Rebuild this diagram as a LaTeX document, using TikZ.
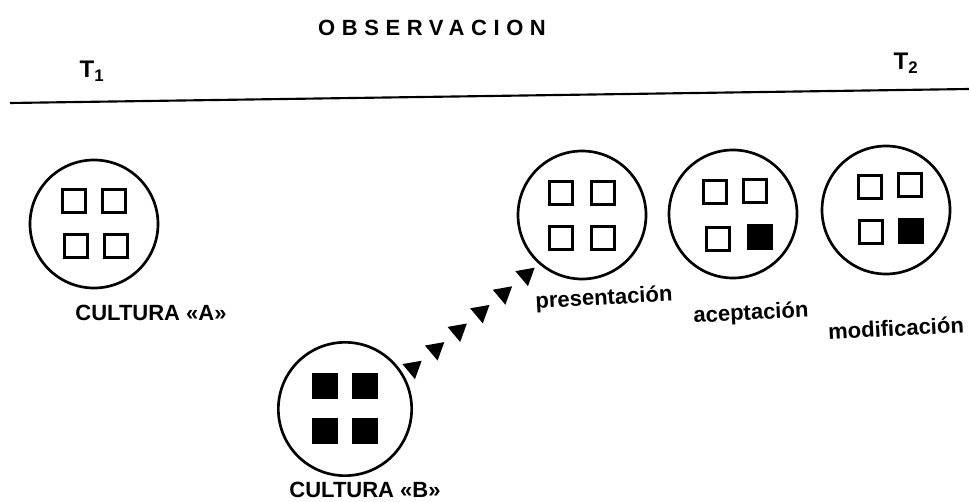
\documentclass[tikz,border=0pt]{standalone}
\usepackage{fontspec}
\setmainfont{Liberation Sans}
\usetikzlibrary{shapes.geometric}

\tikzset{every picture/.style={line width=0.75pt}}
\tikzset{
  cultura/.style={draw, circle, line width=2pt, minimum size=96pt, inner sep=0pt},
  rasgo/.style={draw, rectangle, line width=1.8pt, minimum size=17.5pt, inner sep=0pt},
  rasgolleno/.style={rasgo, fill=black},
  difusion/.style={regular polygon, regular polygon sides=3, shape border rotate=190, fill=black, minimum size=17pt, inner sep=0pt},
  etiqueta/.style={font=\fontsize{16.5}{18}\selectfont\bfseries, inner sep=0.75pt},
  titulo/.style={font=\fontsize{16.5}{18}\selectfont\bfseries, inner sep=0.75pt},
}

\begin{document}
\begin{tikzpicture}[x=0.75pt,y=0.75pt,yscale=-1,xscale=1]
  \useasboundingbox (0,0) rectangle (969,502);

  %Titulo y linea de tiempo
  \node[titulo] (obs) at (432,28) {\addfontfeature{LetterSpace=30}OBSERVACION};
  \node[etiqueta, font=\fontsize{18}{20}\selectfont\bfseries] (t1) at (92,71) {T\textsubscript{1}};
  \node[etiqueta, font=\fontsize{18}{20}\selectfont\bfseries] (t2) at (906,63) {T\textsubscript{2}};
  \coordinate (tizq) at (10,103);
  \coordinate (tder) at (969,89);
  \draw[line width=1.6pt] (tizq) -- (tder);

  %Cultura A
  \node[cultura] (A) at (94,224) {};
  \node[rasgo] (a1) at ([shift={(-20,-23)}]A) {};
  \node[rasgo] (a2) at ([shift={(20,-23)}]A) {};
  \node[rasgo] (a3) at ([shift={(-18,22)}]A) {};
  \node[rasgo] (a4) at ([shift={(22,22)}]A) {};
  \node[etiqueta] (labA) at (151,313) {CULTURA «A»};

  %Cultura B
  \node[cultura, minimum size=100pt] (B) at (345,409) {};
  \node[rasgolleno] (b1) at ([shift={(-20,-23)}]B) {};
  \node[rasgolleno] (b2) at ([shift={(20,-23)}]B) {};
  \node[rasgolleno] (b3) at ([shift={(-20,22)}]B) {};
  \node[rasgolleno] (b4) at ([shift={(20,22)}]B) {};
  \node[etiqueta] (labB) at (365,490) {CULTURA «B»};

  %presentacion
  \node[cultura] (P) at (582,215) {};
  \node[rasgo] (p1) at ([shift={(-21,-22)}]P) {};
  \node[rasgo] (p2) at ([shift={(21,-22)}]P) {};
  \node[rasgo] (p3) at ([shift={(-21,23)}]P) {};
  \node[rasgo] (p4) at ([shift={(21,23)}]P) {};
  \node[etiqueta, rotate=3] (labP) at (604,299) {presentación};

  %aceptacion
  \node[cultura] (C) at (733,214) {};
  \node[rasgo] (c1) at ([shift={(-18,-22)}]C) {};
  \node[rasgo] (c2) at ([shift={(22,-23)}]C) {};
  \node[rasgo] (c3) at ([shift={(-15,25)}]C) {};
  \node[rasgolleno] (c4) at ([shift={(27,23)}]C) {};
  \node[etiqueta, rotate=3] (labC) at (751,314) {aceptación};

  %modificacion
  \node[cultura] (M) at (886,210) {};
  \node[rasgo] (m1) at ([shift={(-16,-23)}]M) {};
  \node[rasgo] (m2) at ([shift={(24,-25)}]M) {};
  \node[rasgo] (m3) at ([shift={(-15,22)}]M) {};
  \node[rasgolleno] (m4) at ([shift={(25,21)}]M) {};
  \node[etiqueta, rotate=3] (labM) at (896,328) {modificación};

  %difusion de B hacia A
  \foreach \i in {0,...,5}
    \node[difusion] (d\i) at (413+22.6*\i,368-18.6*\i) {};

\end{tikzpicture}
\end{document}
